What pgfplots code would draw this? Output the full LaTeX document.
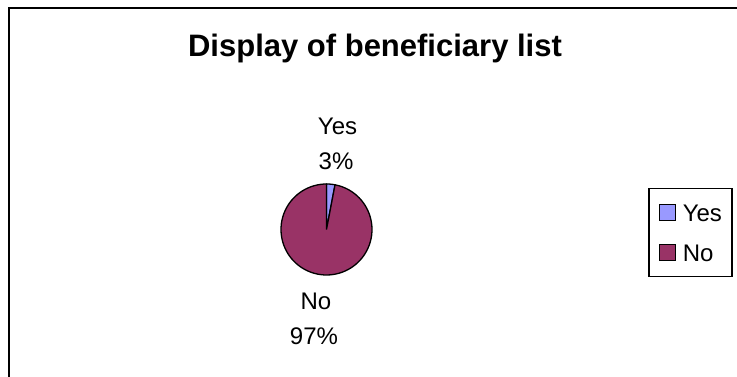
\documentclass[border=0pt]{standalone}
\usepackage{pgfplots}
\pgfplotsset{compat=1.18}
\usepackage{pgfplotstable}
\usepackage{fontspec}
\setmainfont{Liberation Sans}
\definecolor{yescol}{HTML}{9999FF}
\definecolor{nocol}{HTML}{993366}
\pgfplotstableread{
label value
Yes 3
No 97
}\piedata
\pgfplotstablegetelem{0}{value}\of\piedata\let\vYes\pgfplotsretval
\pgfplotstablegetelem{1}{value}\of\piedata\let\vNo\pgfplotsretval
\pgfmathsetmacro\total{\vYes+\vNo}
\pgfmathsetmacro\aA{90}
\pgfmathsetmacro\aB{90-360*(\vYes/\total)}
\pgfmathsetmacro\aC{\aB-360*(\vNo/\total)}
\def\cx{326.5}
\def\cy{147.5}
\def\rr{45.5}
\begin{document}
\begin{tikzpicture}
\begin{axis}[
  scale only axis, width=737pt, height=377pt,
  xmin=0, xmax=737, ymin=0, ymax=377,
  hide axis, clip=false,
  legend style={at={(axis cs:648,189)}, anchor=north west, draw=black, line width=1.5pt,
    inner xsep=10pt, inner ysep=12pt, row sep=16pt, column sep=7pt,
    nodes={inner sep=0pt, text height=21pt, text depth=3pt},
    font=\fontsize{24}{28}\selectfont},
  legend cell align=left,
  legend image code/.code={\draw[#1, draw=black, line width=1pt] (0pt,-8pt) rectangle (16pt,8pt);},
]
\addplot[fill=yescol, draw=black, line width=1.3pt, variable=\t, domain=\aB:\aA, samples=15]
  ({\cx+\rr*cos(\t)}, {\cy+\rr*sin(\t)}) -- (axis cs:\cx,\cy) -- cycle;
\addlegendentry{Yes}
\addplot[fill=nocol, draw=black, line width=1.3pt, variable=\t, domain=\aC:\aB, samples=90]
  ({\cx+\rr*cos(\t)}, {\cy+\rr*sin(\t)}) -- (axis cs:\cx,\cy) -- cycle;
\addlegendentry{No}
\node[anchor=base, font=\bfseries\fontsize{31}{36}\selectfont] at (axis cs:375,320) {Display of beneficiary list};
\node[anchor=base, font=\fontsize{24}{28}\selectfont] at (axis cs:337.5,242) {Yes};
\node[anchor=base, font=\fontsize{24}{28}\selectfont] at (axis cs:336,207) {3\%};
\node[anchor=base, font=\fontsize{24}{28}\selectfont] at (axis cs:316,67) {No};
\node[anchor=base, font=\fontsize{24}{28}\selectfont] at (axis cs:314,32) {97\%};
\draw[line width=2pt] (axis cs:8.5,0) -- (axis cs:8.5,368.5) -- (axis cs:738,368.5);
\end{axis}
\pgfresetboundingbox
\path[use as bounding box] (current axis.south west) rectangle (current axis.north east);
\end{tikzpicture}
\end{document}
